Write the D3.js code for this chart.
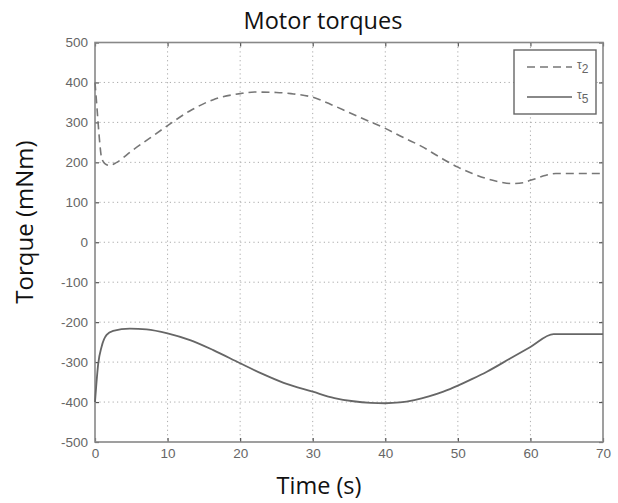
<!DOCTYPE html>
<html><head><meta charset="utf-8">
<script src="https://cdn.jsdelivr.net/npm/d3@7"></script>
<style>
html,body{margin:0;padding:0;background:#fff;}
svg{display:block;}
</style></head>
<body>
<svg id="chart" width="618" height="503"></svg>
<script>
// ---- data ----
const tau2Time = [0, 0.3, 0.6, 0.9, 1.4, 2.0, 3.0, 5.0, 7.5, 10, 13, 16.3, 20, 22, 25, 27, 30, 32.5, 35, 37.5, 40, 42.5, 45, 47.5, 50, 52, 54, 56, 57.5, 59, 60, 61, 62, 63.5, 70];
const tau2Vals = [400, 330, 260, 212, 196, 192, 200, 228, 260, 292, 328, 357, 372, 376, 375, 372, 363, 345, 325, 305, 285, 262, 240, 213, 188, 172, 159, 150, 147, 149, 155, 161, 167, 172, 172];
const tau5Time = [0, 0.45, 0.9, 1.6, 2.5, 4.8, 7.1, 10, 13.1, 16.3, 20, 23, 26, 30, 33, 35.6, 38, 40, 42, 44, 46, 48, 50, 52, 54, 57.2, 60, 63.2, 70];
const tau5Vals = [-400, -303, -262, -232, -222, -216, -218, -228, -245, -270, -303, -329, -352, -374, -390, -398, -402, -403, -401, -395, -386, -374, -359, -342, -324, -291, -262, -230, -230];
const xTicks = [0, 10, 20, 30, 40, 50, 60, 70];
const yTicks = [-500, -400, -300, -200, -100, 0, 100, 200, 300, 400, 500];
const seriesNames = ["2", "5"];

const svg = d3.select("#chart");
const L = 95, R = 603, T = 42.5, B = 442;
const x = d3.scaleLinear().domain([0, 70]).range([L, R]);
const y = d3.scaleLinear().domain([-500, 500]).range([B, T]);

// grid
const grid = svg.append("g");
grid.selectAll(".gx").data(xTicks.slice(1, -1)).enter().append("line")
  .attr("x1", d => x(d)).attr("x2", d => x(d)).attr("y1", T).attr("y2", B)
  .attr("stroke", "#aaa").attr("stroke-width", 1).attr("stroke-dasharray", "1.2,3.2");
grid.selectAll(".gy").data(yTicks.slice(1, -1)).enter().append("line")
  .attr("x1", L).attr("x2", R).attr("y1", d => y(d)).attr("y2", d => y(d))
  .attr("stroke", "#aaa").attr("stroke-width", 1).attr("stroke-dasharray", "1.2,3.2");

// axes
const tickFont = "'Liberation Sans', Arial, sans-serif";
const fmt = d => String(d);
const xAxis = svg.append("g").attr("transform", `translate(0,${B})`)
  .call(d3.axisBottom(x).tickValues(xTicks).tickFormat(fmt).tickSize(-4).tickPadding(6).tickSizeOuter(0));
const xAxisTop = svg.append("g").attr("transform", `translate(0,${T})`)
  .call(d3.axisTop(x).tickValues(xTicks).tickSize(-4).tickFormat("").tickSizeOuter(0));
const yAxis = svg.append("g").attr("transform", `translate(${L},0)`)
  .call(d3.axisLeft(y).tickValues(yTicks).tickFormat(fmt).tickSize(-4).tickPadding(7).tickSizeOuter(0));
const yAxisR = svg.append("g").attr("transform", `translate(${R},0)`)
  .call(d3.axisRight(y).tickValues(yTicks).tickSize(-4).tickFormat("").tickSizeOuter(0));
[xAxis, xAxisTop, yAxis, yAxisR].forEach(g => {
  g.select(".domain").remove();
  g.selectAll(".tick line").attr("stroke", "#555").attr("stroke-width", 1.2);
  g.selectAll(".tick text").attr("fill", "#666").style("font-family", tickFont).style("font-size", "13.5px");
});

// frame
svg.append("rect").attr("x", L).attr("y", T).attr("width", R - L).attr("height", B - T)
  .attr("fill", "none").attr("stroke", "#888").attr("stroke-width", 1.6);

// lines
const line = d3.line().x(d => x(d[0])).y(d => y(d[1])).curve(d3.curveMonotoneX);
const tau2 = tau2Time.map((t, i) => [t, tau2Vals[i]]);
const tau5 = tau5Time.map((t, i) => [t, tau5Vals[i]]);
svg.append("path").datum(tau2).attr("d", line).attr("fill", "none")
  .attr("stroke", "#777").attr("stroke-width", 1.6).attr("stroke-dasharray", "8,5");
svg.append("path").datum(tau5).attr("d", line).attr("fill", "none")
  .attr("stroke", "#666").attr("stroke-width", 1.8);

// legend
const lg = svg.append("g");
lg.append("rect").attr("x", 514).attr("y", 50).attr("width", 82).attr("height", 64)
  .attr("fill", "#fff").attr("stroke", "#666").attr("stroke-width", 1.4);
const legY = [67, 97];
const legDash = ["8,5", null];
const legCol = ["#777", "#888"];
seriesNames.forEach((s, i) => {
  lg.append("line").attr("x1", 527).attr("x2", 572).attr("y1", legY[i]).attr("y2", legY[i])
    .attr("stroke", legCol[i]).attr("stroke-width", i ? 2.2 : 1.6).attr("stroke-dasharray", legDash[i]);
  const tx = lg.append("text").attr("x", 577).attr("y", legY[i] + 2)
    .attr("fill", "#666").style("font-family", tickFont).style("font-size", "12px");
  tx.append("tspan").text("τ");
  tx.append("tspan").attr("dy", 4).style("font-size", "12px").text(s);
});

// titles
const titleFont = "'Open Sans', 'Noto Sans', sans-serif";
svg.append("text").attr("x", 323).attr("y", 29).attr("text-anchor", "middle")
  .style("font-family", titleFont).style("font-size", "23.5px").attr("fill", "#111").text("Motor torques");
svg.append("text").attr("x", 319).attr("y", 494).attr("text-anchor", "middle")
  .style("font-family", titleFont).style("font-size", "23.5px").attr("fill", "#111").text("Time (s)");
svg.append("text").attr("transform", "translate(33,222) rotate(-90)").attr("text-anchor", "middle")
  .style("font-family", titleFont).style("font-size", "24px").attr("fill", "#111").text("Torque (mNm)");
</script>
</body></html>
